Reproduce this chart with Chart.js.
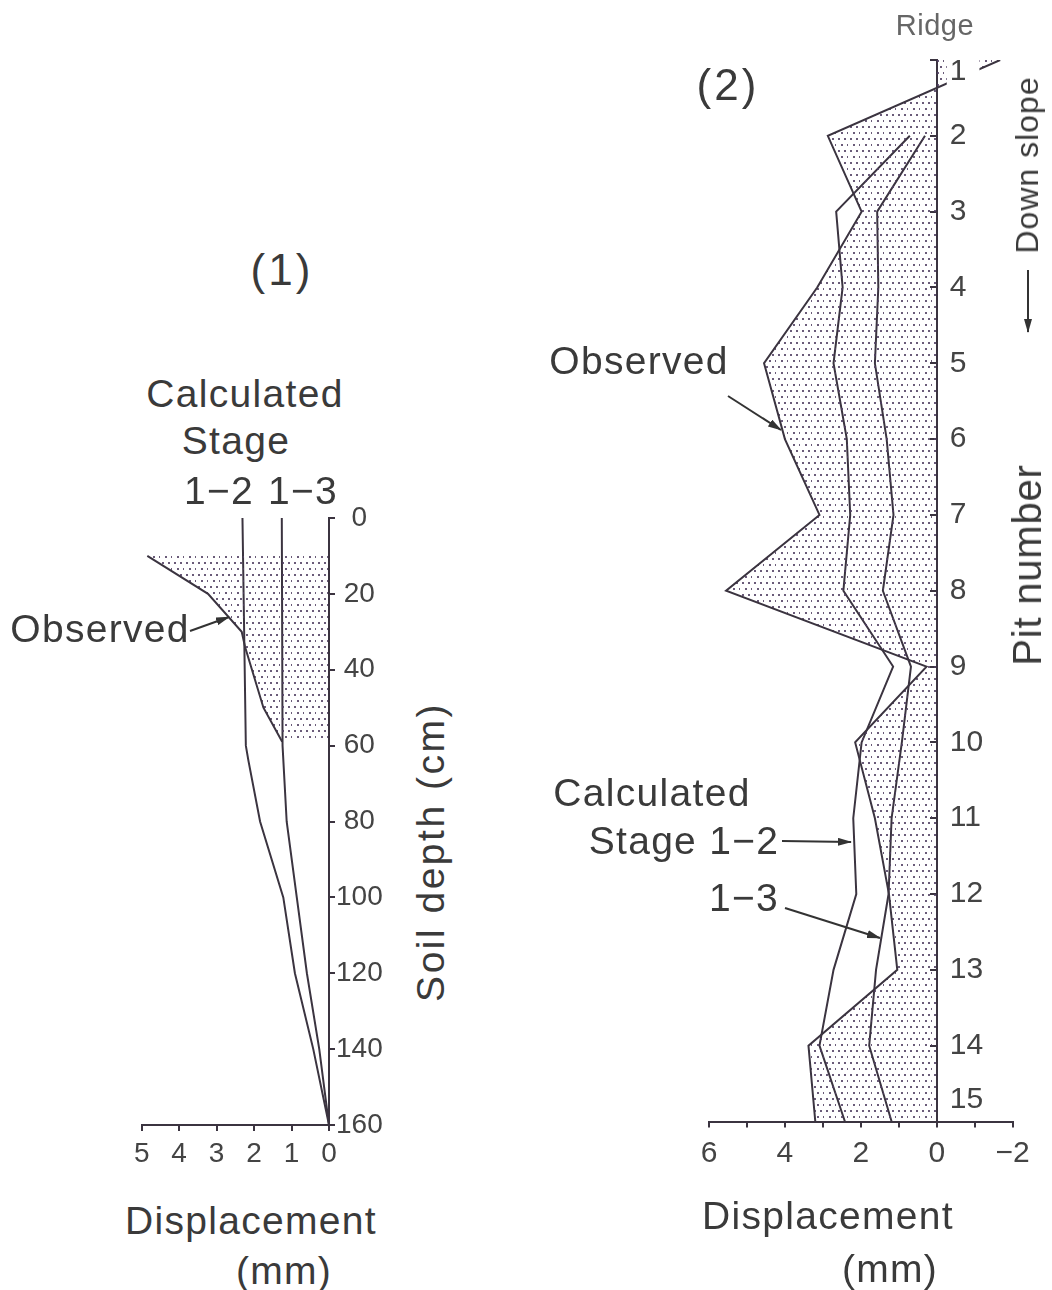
<!DOCTYPE html>
<html>
<head>
<meta charset="utf-8">
<script src="https://cdn.jsdelivr.net/npm/chart.js@4.4.1/dist/chart.umd.min.js"></script>
<style>
  body { margin: 0; background: #fff; width: 1052px; height: 1290px; position: relative; overflow: hidden;
         font-family: "Liberation Sans", Arial, sans-serif; color: #3a3a3a; }
  .box { position: absolute; }
  .t { position: absolute; white-space: nowrap; line-height: 1; transform: translate(-50%, -50%);
       font-size: 39px; letter-spacing: 1.3px; }
  .rot { transform: translate(-50%, -50%) rotate(-90deg); }
  svg { position: absolute; left: 0; top: 0; }
</style>
</head>
<body>
<div class="box" style="left:100px;top:500px;width:300px;height:680px"><canvas id="depthChart" width="300" height="680"></canvas></div>
<div class="box" style="left:680px;top:40px;width:372px;height:1160px"><canvas id="pitChart" width="372" height="1160"></canvas></div>

<!-- panel (1) texts -->
<div class="t" style="left:282px;top:270px;font-size:44px;letter-spacing:3px">(1)</div>
<div class="t" style="left:245px;top:393px">Calculated</div>
<div class="t" style="left:236px;top:440px">Stage</div>
<div class="t" style="left:219px;top:490px">1−2</div>
<div class="t" style="left:303px;top:490px">1−3</div>
<div class="t" style="left:100px;top:628px">Observed</div>
<div class="t rot" style="left:430px;top:852px;letter-spacing:2.5px">Soil depth (cm)</div>
<div class="t" style="left:251px;top:1220px">Displacement</div>
<div class="t" style="left:284px;top:1270px">(mm)</div>

<!-- panel (2) texts -->
<div class="t" style="left:728px;top:85px;font-size:44px;letter-spacing:3px">(2)</div>
<div class="t" style="left:935px;top:25px;font-size:29px;letter-spacing:0.5px;color:#666">Ridge</div>
<div class="t rot" style="left:1027px;top:165px;font-size:32px;letter-spacing:1px">Down slope</div>
<div class="t rot" style="left:1027px;top:565px;font-size:40px;letter-spacing:0.8px">Pit number</div>
<div class="t" style="left:639px;top:360px">Observed</div>
<div class="t" style="left:652px;top:792px">Calculated</div>
<div class="t" style="left:684px;top:840px">Stage 1−2</div>
<div class="t" style="left:744px;top:897px">1−3</div>
<div class="t" style="left:828px;top:1215px">Displacement</div>
<div class="t" style="left:890px;top:1268px">(mm)</div>

<svg width="1052" height="1290">
  <defs>
    <marker id="head" viewBox="0 0 14 8" refX="13" refY="4" markerWidth="14" markerHeight="8"
            markerUnits="userSpaceOnUse" orient="auto">
      <path d="M0,0 L14,4 L0,8 z" fill="#333"/>
    </marker>
  </defs>
  <g stroke="#333" stroke-width="2" fill="none" marker-end="url(#head)">
    <line x1="190" y1="631" x2="229" y2="617"/>
    <line x1="728" y1="396" x2="781" y2="430"/>
    <line x1="782" y1="841" x2="851" y2="842"/>
    <line x1="785" y1="908" x2="880" y2="938"/>
    <line x1="1028" y1="270" x2="1028" y2="332"/>
  </g>
</svg>

<script>
// Panel (1): soil depth profile (cm) vs displacement (mm)
const depthObserved = [10, 20, 30, 34, 50, 59];
const dispObserved  = [4.85, 3.23, 2.33, 2.24, 1.75, 1.25];
const depthStage12  = [0, 60, 64, 80, 100, 120, 140, 160];
const dispStage12   = [2.31, 2.22, 2.15, 1.84, 1.22, 0.91, 0.42, 0];
const depthStage13  = [0, 60, 80, 100, 120, 140, 160];
const dispStage13   = [1.26, 1.24, 1.13, 0.86, 0.59, 0.26, 0];

// Panel (2): displacement (mm) at each pit, ridge -> down slope
const pitNumbers  = [1, 2, 3, 4, 5, 6, 7, 8, 9, 10, 11, 12, 13, 14, 15];
const pitObserved = [-1.67, 2.87, 1.98, 3.15, 4.55, 4.0, 3.09, 5.55, 0.27, 2.15, 1.63, 1.26, 1.04, 3.38, 3.2];
const pitStage12  = [null, 0.71, 2.65, 2.48, 2.72, 2.37, 2.28, 2.46, 1.15, 1.98, 2.2, 2.12, 2.72, 3.09, 2.42];
const pitStage13  = [null, 0.31, 1.57, 1.54, 1.63, 1.32, 1.14, 1.42, 0.68, 0.92, 1.19, 1.27, 1.6, 1.78, 1.19];

const ink = '#3b3440';
Chart.defaults.font.family = '"Liberation Sans", Arial, sans-serif';
Chart.defaults.color = '#444';

function dotPattern(canvas) {
    const tile = document.createElement('canvas');
    tile.width = 12; tile.height = 12;
    const g = tile.getContext('2d');
    g.fillStyle = 'rgba(80,62,98,0.85)';
    [[2, 2], [8, 2], [5, 8], [11, 8]].forEach(([x, y]) => g.fillRect(x, y, 2, 2));
    return canvas.getContext('2d').createPattern(tile, 'repeat');
}

function toPoints(xs, ys) {
    return ys.map((y, i) => ({ x: xs[i], y: y })).filter(p => p.x !== null);
}

const lineStyle = { borderColor: ink, borderWidth: 2, pointRadius: 0, tension: 0, fill: false };
const axisGrid = { drawOnChartArea: false, drawTicks: true, tickLength: 6, color: ink, lineWidth: 2 };
const axisBorder = { color: ink, width: 2 };

// (1) depth chart
const c1 = document.getElementById('depthChart');
new Chart(c1, {
    type: 'line',
    data: {
        datasets: [
            { ...lineStyle, data: toPoints(dispObserved, depthObserved), fill: 'origin', backgroundColor: dotPattern(c1) },
            { ...lineStyle, data: toPoints(dispStage12, depthStage12) },
            { ...lineStyle, data: toPoints(dispStage13, depthStage13) }
        ]
    },
    options: {
        indexAxis: 'y',
        responsive: false,
        animation: false,
        devicePixelRatio: 1,
        layout: { padding: { left: 41.7, top: 18, right: 0, bottom: 0 } },
        plugins: { legend: { display: false }, tooltip: { enabled: false } },
        scales: {
            x: {
                type: 'linear', min: 0, max: 5, reverse: true, position: 'bottom', z: 1,
                ticks: { stepSize: 1, autoSkip: false, maxRotation: 0, font: { size: 28 }, padding: 6 },
                grid: axisGrid, border: axisBorder,
                afterFit: s => { s.height = 55; }
            },
            y: {
                type: 'linear', min: 0, max: 160, reverse: true, position: 'right', z: 1,
                ticks: { stepSize: 20, autoSkip: false, font: { size: 28 }, padding: 1, crossAlign: 'center' },
                grid: axisGrid, border: axisBorder,
                afterFit: s => { s.width = 71; }
            }
        }
    }
});

// pit labels sit right of the zero line, so they are drawn from the y scale here
const pitLabels = {
    id: 'pitLabels',
    afterDraw(chart) {
        const { ctx, chartArea } = chart;
        const xs = chart.scales.x, ys = chart.scales.y;
        const x0 = xs.getPixelForValue(0);
        ctx.save();
        ctx.font = '30px "Liberation Sans", Arial, sans-serif';
        ctx.textBaseline = 'middle';
        ctx.textAlign = 'left';
        pitNumbers.forEach(p => {
            let py = ys.getPixelForValue(p);
            py = Math.min(Math.max(py, chartArea.top + 12), chartArea.bottom - 22);
            const txt = String(p);
            const w = ctx.measureText(txt).width;
            ctx.fillStyle = '#fff';
            ctx.fillRect(x0 + 10, py - 13, w + 16, 26);
            ctx.fillStyle = '#444';
            ctx.fillText(txt, x0 + 13, py);
        });
        ctx.restore();
    }
};

// (2) pit chart
const c2 = document.getElementById('pitChart');
new Chart(c2, {
    type: 'line',
    data: {
        datasets: [
            { ...lineStyle, data: toPoints(pitObserved, pitNumbers), fill: 'origin', backgroundColor: dotPattern(c2) },
            { ...lineStyle, data: toPoints(pitStage12, pitNumbers) },
            { ...lineStyle, data: toPoints(pitStage13, pitNumbers) }
        ]
    },
    options: {
        indexAxis: 'y',
        responsive: false,
        animation: false,
        devicePixelRatio: 1,
        layout: { padding: { left: 29, top: 20, right: 39.3, bottom: 0 } },
        plugins: { legend: { display: false }, tooltip: { enabled: false } },
        scales: {
            x: {
                type: 'linear', min: -2, max: 6, reverse: true, position: 'bottom', z: 1,
                ticks: {
                    stepSize: 1, autoSkip: false, maxRotation: 0, font: { size: 30 }, padding: 8,
                    callback: v => v % 2 === 0 ? (v < 0 ? '\u2212' + Math.abs(v) : String(v)) : ''
                },
                grid: axisGrid, border: axisBorder,
                afterFit: s => { s.height = 78.5; }
            },
            y: {
                type: 'linear', min: 1, max: 15, reverse: true, position: { x: 0 }, z: 1,
                ticks: { stepSize: 1, display: false },
                grid: axisGrid, border: axisBorder
            }
        }
    },
    plugins: [pitLabels]
});
</script>
</body>
</html>
